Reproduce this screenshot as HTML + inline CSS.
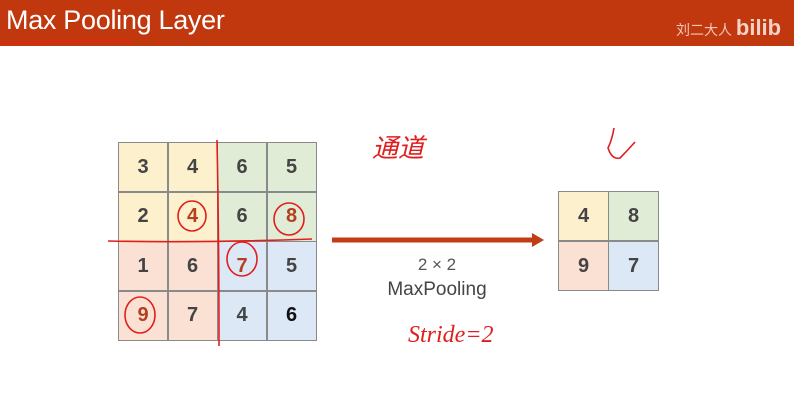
<!DOCTYPE html>
<html><head><meta charset="utf-8"><style>
body{margin:0;width:794px;height:403px;background:#fff;position:relative;overflow:hidden;font-family:"Liberation Sans","DejaVu Sans",sans-serif}
.hdr{position:absolute;left:0;top:0;width:794px;height:46px;background:#c1380e}
.t{position:absolute;left:6px;top:5px;color:#fff;font-size:27px;letter-spacing:-0.3px}
.c{position:absolute;box-sizing:border-box;border:1px solid #8a8a8a;display:flex;align-items:center;justify-content:center;font-weight:bold;font-size:20px;color:#444}
.y{background:#fdf0cc}.g{background:#e1ecd7}.p{background:#fbe1d3}.b{background:#dce8f5}
.r{color:#b3401e}
</style></head><body>
<div class="hdr"><div class="t">Max Pooling Layer</div>
<div style="position:absolute;left:676px;top:15px;color:#f3c8b8;font-size:14px;font-family:'Liberation Sans','Noto Sans CJK SC',sans-serif">刘二大人 <b style="font-size:22px;color:#f2d2c6">bilib</b></div></div>
<svg width="794" height="403" style="position:absolute;left:0;top:0">
<path d="M2 44 Q60 40 130 40" stroke="#e8221a" stroke-width="1.5" fill="none"/>
</svg>
<div id="g"></div>
<script>
var v=[[3,4,6,5],[2,4,6,8],[1,6,7,5],[9,7,4,6]],h='';
for(var i=0;i<4;i++)for(var j=0;j<4;j++){var cl=i<2?(j<2?'y':'g'):(j<2?'p':'b');
var red=(i==1&&j==1)||(i==1&&j==3)||(i==2&&j==2)||(i==3&&j==0);
var col=(i==3&&j==3)?'color:#111;':'';
h+='<div class="c '+cl+(red?' r':'')+'" style="'+col+'left:'+(118+j*49.5)+'px;top:'+(142+i*49.5)+'px;width:50px;height:50px">'+v[i][j]+'</div>';}
var o=[[4,8],[9,7]],oc=[['y','g'],['p','b']];
for(var i=0;i<2;i++)for(var j=0;j<2;j++)h+='<div class="c '+oc[i][j]+'" style="left:'+(558+j*50)+'px;top:'+(191+i*50)+'px;width:51px;height:50px">'+o[i][j]+'</div>';
document.getElementById('g').innerHTML=h;
</script>
<svg width="794" height="403" style="position:absolute;left:0;top:0">
<g stroke="#e01e1e" stroke-width="1.6" fill="none">
<path d="M108 241 Q200 243 312 239"/>
<path d="M217 140 Q219 240 219 346"/>
<ellipse cx="192" cy="216" rx="14" ry="15"/>
<ellipse cx="289" cy="219" rx="15" ry="16"/>
<ellipse cx="242" cy="259" rx="15" ry="17"/>
<ellipse cx="140" cy="315" rx="15" ry="18"/>
<path d="M614 128 Q612 140 608 148 Q612 160 620 158 Q628 150 635 142"/>
</g>
<path d="M332 240 H535" stroke="#c23c16" stroke-width="5"/>
<path d="M532 233 L544 240 L532 247Z" fill="#c23c16"/>
</svg>
<div style="position:absolute;left:372px;top:128px;color:#e01e1e;font-size:26px;font-family:'Liberation Sans','Noto Sans CJK SC',sans-serif;font-style:italic">通道</div>
<div style="position:absolute;left:405px;top:255px;width:64px;text-align:center;color:#555;font-size:17px">2 × 2</div>
<div style="position:absolute;left:370px;top:279px;width:134px;text-align:center;color:#444;font-size:19px">MaxPooling</div>
<div style="position:absolute;left:408px;top:322px;color:#e01e1e;font-size:24px;font-family:'Liberation Serif',serif;font-style:italic">Stride=2</div>
</body></html>
